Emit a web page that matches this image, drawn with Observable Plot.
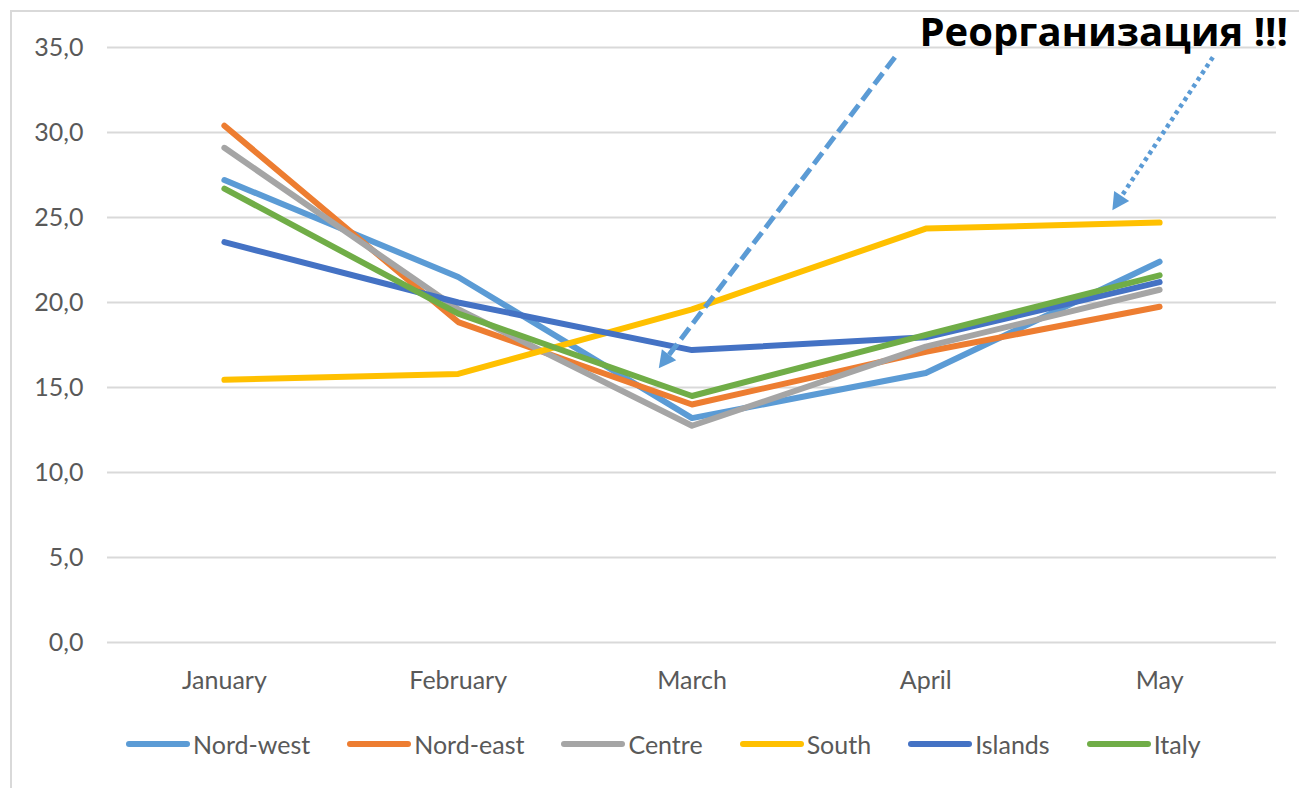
<!DOCTYPE html>
<html>
<head>
<meta charset="utf-8">
<script src="https://cdn.jsdelivr.net/npm/d3@7"></script>
<script src="https://cdn.jsdelivr.net/npm/@observablehq/plot@0.6"></script>
<style>
  html, body { margin: 0; padding: 0; background: #fff; overflow: hidden; }
  #wrap { position: relative; width: 1299px; height: 788px; }
  #frame { position: absolute; left: 10px; top: 10px; width: 1300px; height: 790px;
           border-left: 2px solid #d9d9d9; border-top: 2px solid #d9d9d9; box-sizing: border-box; }
  #chart { position: absolute; left: 0; top: 0; }
  #title { position: absolute; right: 11px; top: 3px; font-family: "Open Sans", sans-serif;
           font-weight: 700; font-size: 40px; color: #000; white-space: nowrap; }
  #legend { position: absolute; left: 126px; top: 729px; display: flex; gap: 37px; align-items: center;
            font-family: Lato, sans-serif; font-size: 25px; color: #595959; }
  .item { display: flex; align-items: center; }
  .sw { width: 64px; height: 6px; border-radius: 3px; margin-right: 3px; }
</style>
</head>
<body>
<div id="wrap">
  <div id="frame"></div>
  <div id="chart"></div>
  <div id="title">Реорганизация !!!</div>
  <div id="legend"></div>
</div>
<script>
const months = ["January", "February", "March", "April", "May"];
const seriesNames = ["Nord-west", "Nord-east", "Centre", "South", "Islands", "Italy"];
const seriesColors = ["#5B9BD5", "#ED7D31", "#A5A5A5", "#FFC000", "#4472C4", "#70AD47"];
const nordWest = [27.2, 21.5, 13.2, 15.85, 22.4];
const nordEast = [30.4, 18.85, 14.0, 17.1, 19.75];
const centre   = [29.1, 19.6, 12.75, 17.4, 20.75];
const south    = [15.45, 15.8, 19.6, 24.35, 24.7];
const islands  = [23.55, 20.0, 17.2, 17.95, 21.2];
const italy    = [26.7, 19.35, 14.5, 18.1, 21.6];
const yTicks = [0, 5, 10, 15, 20, 25, 30, 35];
// annotation arrows in data units (x = month index, y = value)
const arrows = [
  {x1: 2.87, y1: 34.4, x2: 1.86, y2: 16.1, dash: "14,6", width: 5, cap: "butt"},
  {x1: 4.23, y1: 34.4, x2: 3.80, y2: 25.4, dash: "4,4", width: 4.5, cap: "butt"}
];

const allSeries = [nordWest, nordEast, centre, south, islands, italy];
const rows = [];
allSeries.forEach((vals, s) => vals.forEach((v, i) => rows.push({series: seriesNames[s], i, value: v})));

function arrowMark(index, scales) {
  const {x, y} = scales;
  const g = d3.create("svg:g");
  for (const a of arrows) {
    const X1 = x(a.x1), Y1 = y(a.y1), X2 = x(a.x2), Y2 = y(a.y2);
    const ang = Math.atan2(Y2 - Y1, X2 - X1);
    const headLen = 17, headW = 9;
    const bx = X2 - headLen * Math.cos(ang), by = Y2 - headLen * Math.sin(ang);
    g.append("line").attr("x1", X1).attr("y1", Y1).attr("x2", bx).attr("y2", by)
      .attr("stroke", "#5B9BD5").attr("stroke-width", a.width)
      .attr("stroke-dasharray", a.dash).attr("stroke-linecap", a.cap);
    const px = -Math.sin(ang), py = Math.cos(ang);
    g.append("path")
      .attr("d", `M${X2},${Y2}L${bx + px * headW},${by + py * headW}L${bx - px * headW},${by - py * headW}Z`)
      .attr("fill", "#5B9BD5");
  }
  return g.node();
}

const plot = Plot.plot({
  width: 1299,
  height: 712,
  marginLeft: 107,
  marginRight: 23,
  marginTop: 47,
  marginBottom: 70,
  style: {fontFamily: "Lato, sans-serif", fontSize: "25px", color: "#595959", background: "transparent"},
  x: {type: "linear", domain: [-0.5, 4.5], label: null},
  y: {domain: [0, 35], label: null},
  color: {domain: seriesNames, range: seriesColors},
  marks: [
    Plot.gridY(yTicks, {stroke: "#d9d9d9", strokeOpacity: 1, strokeWidth: 2}),
    Plot.axisY(yTicks, {tickSize: 0, tickPadding: 24, tickFormat: d => d.toFixed(1).replace(".", ","), fill: "#595959", label: null}),
    Plot.axisX([0, 1, 2, 3, 4], {tickSize: 0, tickPadding: 29, tickFormat: i => months[i], fill: "#595959", label: null}),
    Plot.line(rows, {x: "i", y: "value", z: "series", stroke: "series", strokeWidth: 6, strokeLinecap: "round", strokeLinejoin: "round"}),
    arrowMark
  ]
});
document.getElementById("chart").appendChild(plot);

const legend = document.getElementById("legend");
seriesNames.forEach((name, k) => {
  const item = document.createElement("div");
  item.className = "item";
  const sw = document.createElement("div");
  sw.className = "sw";
  sw.style.background = seriesColors[k];
  const t = document.createElement("span");
  t.textContent = name;
  item.appendChild(sw); item.appendChild(t);
  legend.appendChild(item);
});
</script>
</body>
</html>
